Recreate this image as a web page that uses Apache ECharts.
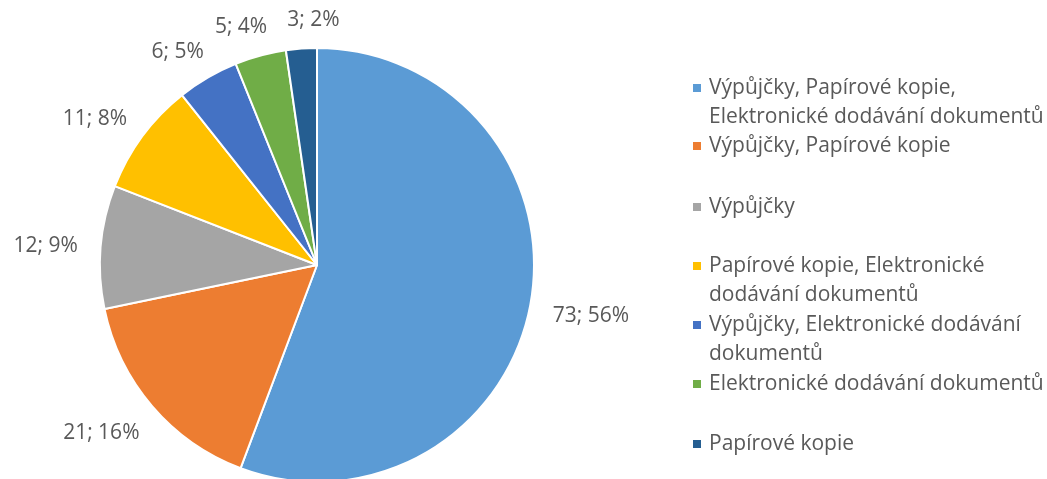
<!DOCTYPE html>
<html><head><meta charset="utf-8">
<script src="https://cdn.jsdelivr.net/npm/echarts@6/dist/echarts.min.js"></script>
<style>html,body{margin:0;padding:0;background:#fff}#c{width:1047px;height:479px}</style>
</head><body><div id="c"></div>
<script>
const categories = [
  'Výpůjčky, Papírové kopie,\nElektronické dodávání dokumentů',
  'Výpůjčky, Papírové kopie',
  'Výpůjčky',
  'Papírové kopie, Elektronické\ndodávání dokumentů',
  'Výpůjčky, Elektronické dodávání\ndokumentů',
  'Elektronické dodávání dokumentů',
  'Papírové kopie'
];
const values = [73, 21, 12, 11, 6, 5, 3];
const colors = ['#5B9BD5', '#ED7D31', '#A5A5A5', '#FFC000', '#4472C4', '#70AD47', '#255E91'];
const legendMarkerY = [88, 146, 207, 266, 325, 384, 444];

const FONT = 'Open Sans';
const FS = 21;
const LH = 29;
const CX = 317, CY = 265, R = 217, LABEL_R = 240;
const TEXT_COLOR = '#595959';

const data = categories.map((n, i) => ({ name: n, value: values[i], itemStyle: { color: colors[i] } }));
const total = values.reduce((a, b) => a + b, 0);

// Excel-like "best fit" outside label placement, computed from the data
const labelPos = (function () {
  const ctx = document.createElement('canvas').getContext('2d');
  ctx.font = FS + 'px "' + FONT + '"';
  const boxes = [];
  let cum = 0;
  values.forEach(v => {
    const a = (cum + v / 2) / total * 2 * Math.PI; cum += v;
    const ux = Math.sin(a), uy = -Math.cos(a);
    const pct = Math.round(v / total * 100);
    const w = ctx.measureText(v + '; ' + pct + '%').width;
    const h = FS * 0.95;
    const sx = Math.sign(ux) * Math.sqrt(Math.abs(ux)), sy = Math.sign(uy) * Math.sqrt(Math.abs(uy));
    boxes.push({ x: CX + ux * LABEL_R + sx * w / 2, y: CY + uy * LABEL_R + sy * h / 2 + 4, w: w, h: h });
  });
  // push overlapping neighbours apart horizontally (the later label moves)
  for (let i = 0; i < boxes.length - 1; i++) {
    const b1 = boxes[i], b2 = boxes[i + 1];
    const ox = (b1.w + b2.w) / 2 + 20 - Math.abs(b1.x - b2.x);
    const oy = (b1.h + b2.h) / 2 - Math.abs(b1.y - b2.y);
    if (ox > 0 && oy > 0) b2.x += (b2.x >= b1.x ? 1 : -1) * ox;
  }
  return boxes;
})();

const legends = categories.map((n, i) => ({
  data: [n],
  orient: 'vertical',
  left: 693,
  top: legendMarkerY[i] - LH / 2,
  padding: 0,
  icon: 'rect',
  itemWidth: 8,
  itemHeight: 8,
  itemStyle: { borderWidth: 0 },
  selectedMode: false,
  formatter: name => name.split('\n')[0],
  textStyle: { fontFamily: FONT, fontSize: FS, color: TEXT_COLOR, lineHeight: LH, padding: [0, 0, 0, 3] }
}));

const graphics = [];
categories.forEach((n, i) => {
  const parts = n.split('\n');
  for (let k = 1; k < parts.length; k++) {
    graphics.push({
      type: 'text', x: 709, y: legendMarkerY[i] + k * LH,
      style: { text: parts[k], font: FS + 'px "' + FONT + '"', fill: TEXT_COLOR, verticalAlign: 'middle', align: 'left' }
    });
  }
});

const chart = echarts.init(document.getElementById('c'), null, { renderer: 'canvas' });
chart.setOption({
  animation: false,
  backgroundColor: '#fff',
  legend: legends,
  graphic: graphics,
  series: [{
    type: 'pie',
    center: [CX, CY],
    radius: [0, R],
    startAngle: 90,
    clockwise: true,
    percentPrecision: 0,
    avoidLabelOverlap: false,
    itemStyle: { borderColor: '#fff', borderWidth: 2 },
    label: {
      show: true, position: 'outside',
      formatter: '{c}; {d}%',
      fontFamily: FONT, fontSize: FS, color: TEXT_COLOR
    },
    labelLine: { show: false, length: 20, length2: 0 },
    labelLayout: function (p) {
      const b = labelPos[p.dataIndex];
      return { x: b.x, y: b.y, align: 'center', verticalAlign: 'middle' };
    },
    data: data
  }]
});
</script></body></html>
